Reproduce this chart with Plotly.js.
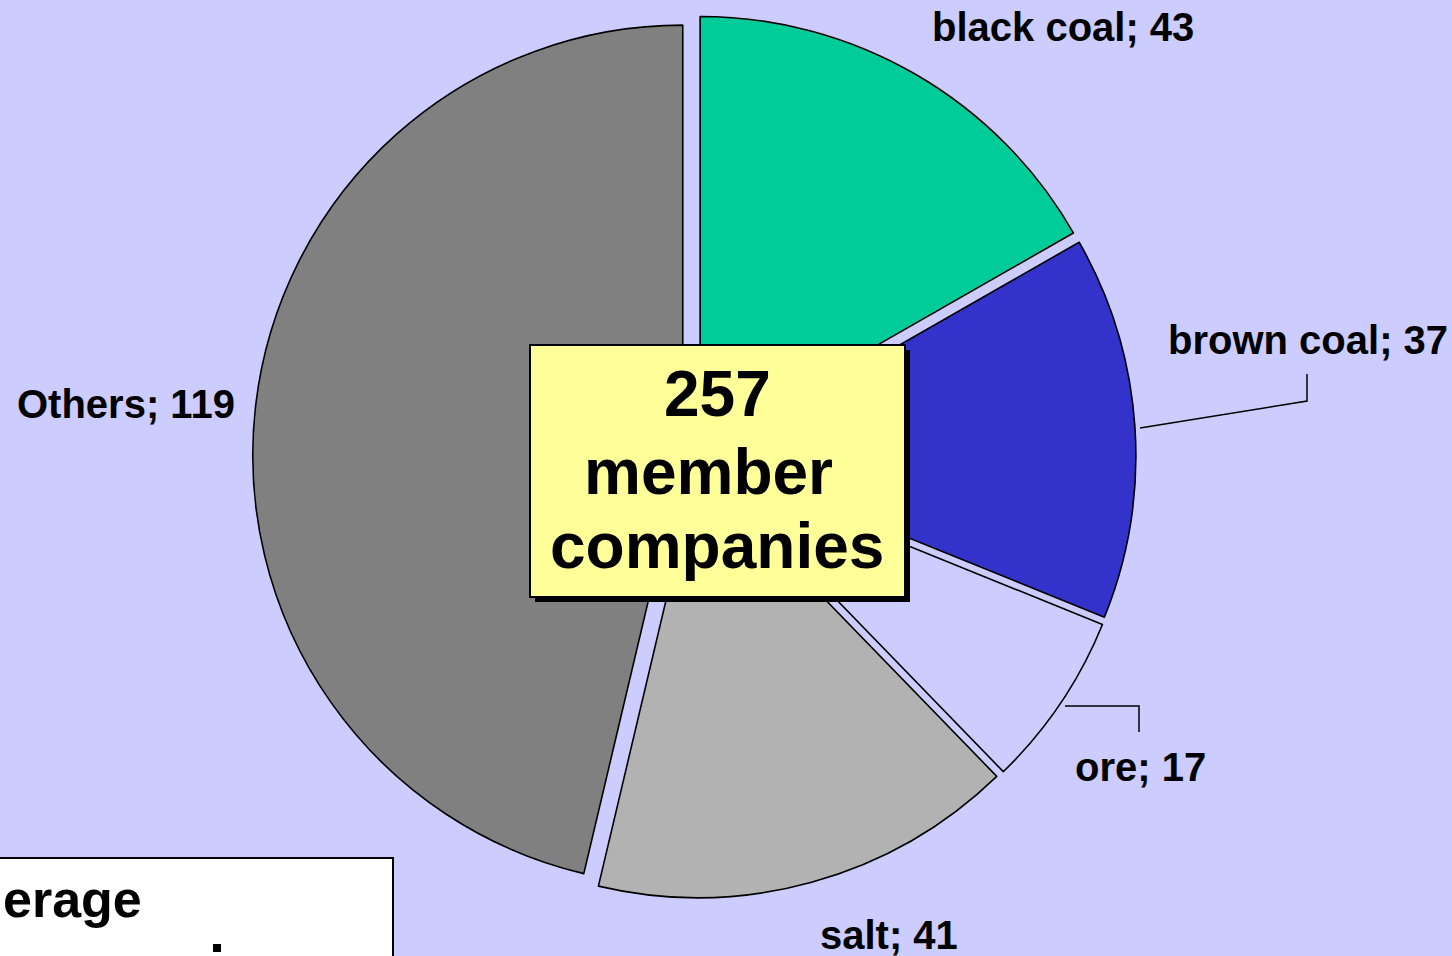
<!DOCTYPE html>
<html>
<head>
<meta charset="utf-8">
<script src="https://cdn.plot.ly/plotly-3.0.1.min.js"></script>
<style>
  html, body { margin: 0; padding: 0; background: #CCCCFF; }
  #chart { width: 1452px; height: 956px; }
</style>
</head>
<body>
<div id="chart"></div>
<script>
// ---- data ----
const categories = ['black coal', 'brown coal', 'ore', 'salt', 'Others'];
const values = [43, 37, 17, 41, 119];
const sliceColors = ['#00CC99', '#3333CC', '#CCCCFF', '#B2B2B2', '#808080'];
const centerLines = ['member', 'companies'];
const boxText = ['erage'];

// ---- helpers (pixel -> paper) ----
const W = 1452, H = 956;
const px = x => x / W;
const py = y => 1 - y / H;

const total = values.reduce((a, b) => a + b, 0);
const FONT = 'Liberation Sans, Arial, sans-serif';

// pie geometry
const cx = 694.3, cy = 456.5, R = 430, pull = 0.027;
const half = R * (1 + pull);

const trace = {
  type: 'pie',
  labels: categories,
  values: values,
  sort: false,
  direction: 'clockwise',
  rotation: 0,
  pull: values.map(() => pull),
  textinfo: 'none',
  hoverinfo: 'label+value',
  marker: { colors: sliceColors, line: { color: '#000000', width: 1.6 } },
  domain: { x: [px(cx - half), px(cx + half)], y: [py(cy + half), py(cy - half)] },
  showlegend: false
};

// label positions (pixel centres)
const labelPos = [
  [1063, 27], [1308, 340], [1140, 767], [889, 935], [126, 404]
];

const annotations = categories.map((c, i) => ({
  xref: 'paper', yref: 'paper',
  x: px(labelPos[i][0]), y: py(labelPos[i][1]),
  xanchor: 'center', yanchor: 'middle',
  text: '<b>' + c + '; ' + values[i] + '</b>',
  showarrow: false,
  font: { family: FONT, size: 40, color: '#000000' }
}));

// centre box text
const centerTexts = [String(total)].concat(centerLines);
const centerPos = [[717, 394], [708, 472], [717, 546]];
centerTexts.forEach((t, i) => annotations.push({
  xref: 'paper', yref: 'paper',
  x: px(centerPos[i][0]), y: py(centerPos[i][1]),
  xanchor: 'center', yanchor: 'middle',
  text: '<b>' + t + '</b>',
  showarrow: false,
  font: { family: FONT, size: 64, color: '#000000' }
}));

// bottom-left box text
annotations.push({
  xref: 'paper', yref: 'paper',
  x: px(144), y: py(899),
  xanchor: 'right', yanchor: 'middle',
  text: '<b>' + boxText[0] + '</b>',
  showarrow: false,
  font: { family: FONT, size: 52, color: '#000000' }
});

const line = (pts) => ({
  type: 'path', xref: 'paper', yref: 'paper',
  path: pts.map((p, i) => (i ? 'L' : 'M') + px(p[0]) + ',' + py(p[1])).join(' '),
  line: { color: '#000000', width: 1.5 }
});

const shapes = [
  // leader lines
  line([[1140, 428], [1307, 401], [1307, 374]]),
  line([[1065, 706], [1139, 706], [1139, 732]]),
  // centre box shadow + box
  { type: 'rect', xref: 'paper', yref: 'paper', layer: 'above',
    x0: px(535), x1: px(910), y0: py(602), y1: py(350),
    fillcolor: '#000000', line: { width: 0 } },
  { type: 'rect', xref: 'paper', yref: 'paper', layer: 'above',
    x0: px(530), x1: px(905), y0: py(597), y1: py(345),
    fillcolor: '#FFFF99', line: { color: '#000000', width: 2 } },
  // bottom-left box
  { type: 'rect', xref: 'paper', yref: 'paper', layer: 'above',
    x0: px(-10), x1: px(393), y0: py(970), y1: py(858),
    fillcolor: '#FFFFFF', line: { color: '#000000', width: 2 } },
  // fragment of the cut-off next line in the box
  { type: 'rect', xref: 'paper', yref: 'paper', layer: 'above',
    x0: px(213), x1: px(221), y0: py(952), y1: py(944),
    fillcolor: '#000000', line: { width: 0 } }
];

const layout = {
  width: W, height: H,
  margin: { l: 0, r: 0, t: 0, b: 0 },
  paper_bgcolor: '#CCCCFF',
  plot_bgcolor: '#CCCCFF',
  showlegend: false,
  annotations: annotations,
  shapes: shapes
};

Plotly.newPlot('chart', [trace], layout, { displayModeBar: false, staticPlot: true });
</script>
</body>
</html>
